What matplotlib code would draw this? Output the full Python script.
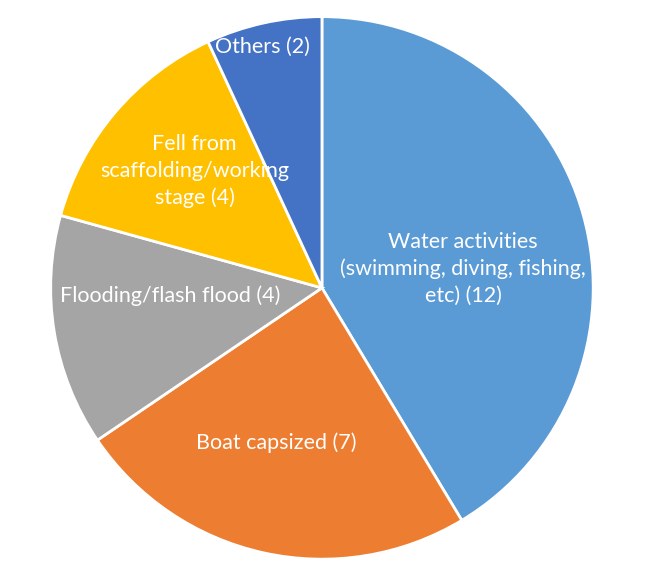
import matplotlib.pyplot as plt

# Data
labels = ['Water activities\n(swimming, diving, fishing,\netc) (12)',
          'Boat capsized (7)',
          'Flooding/flash flood (4)',
          'Fell from\nscaffolding/working\nstage (4)',
          'Others (2)']
values = [12, 7, 4, 4, 2]
colors = ['#5B9BD5', '#ED7D31', '#A5A5A5', '#FFC000', '#4472C4']

# label positions inside the pie (fraction of radius)
label_pos = [(0.52, 0.07), (-0.17, -0.57), (-0.56, -0.03), (-0.47, 0.43), (-0.22, 0.89)]

fig = plt.figure(figsize=(6.5, 5.69), dpi=100)
ax = fig.add_axes([0.0738, 0.0125, 0.843, 0.963])

ax.pie(values, colors=colors, startangle=90, counterclock=False,
       wedgeprops=dict(edgecolor='white', linewidth=2))

for lab, (x, y) in zip(labels, label_pos):
    ax.text(x, y, lab, ha='center', va='center', color='white',
            fontsize=15.5, family='Lato', linespacing=1.4)

ax.set_xlim(-1.01, 1.01)
ax.set_ylim(-1.01, 1.01)
ax.set_aspect('equal')
ax.axis('off')

fig.savefig('out.png', dpi=100)
